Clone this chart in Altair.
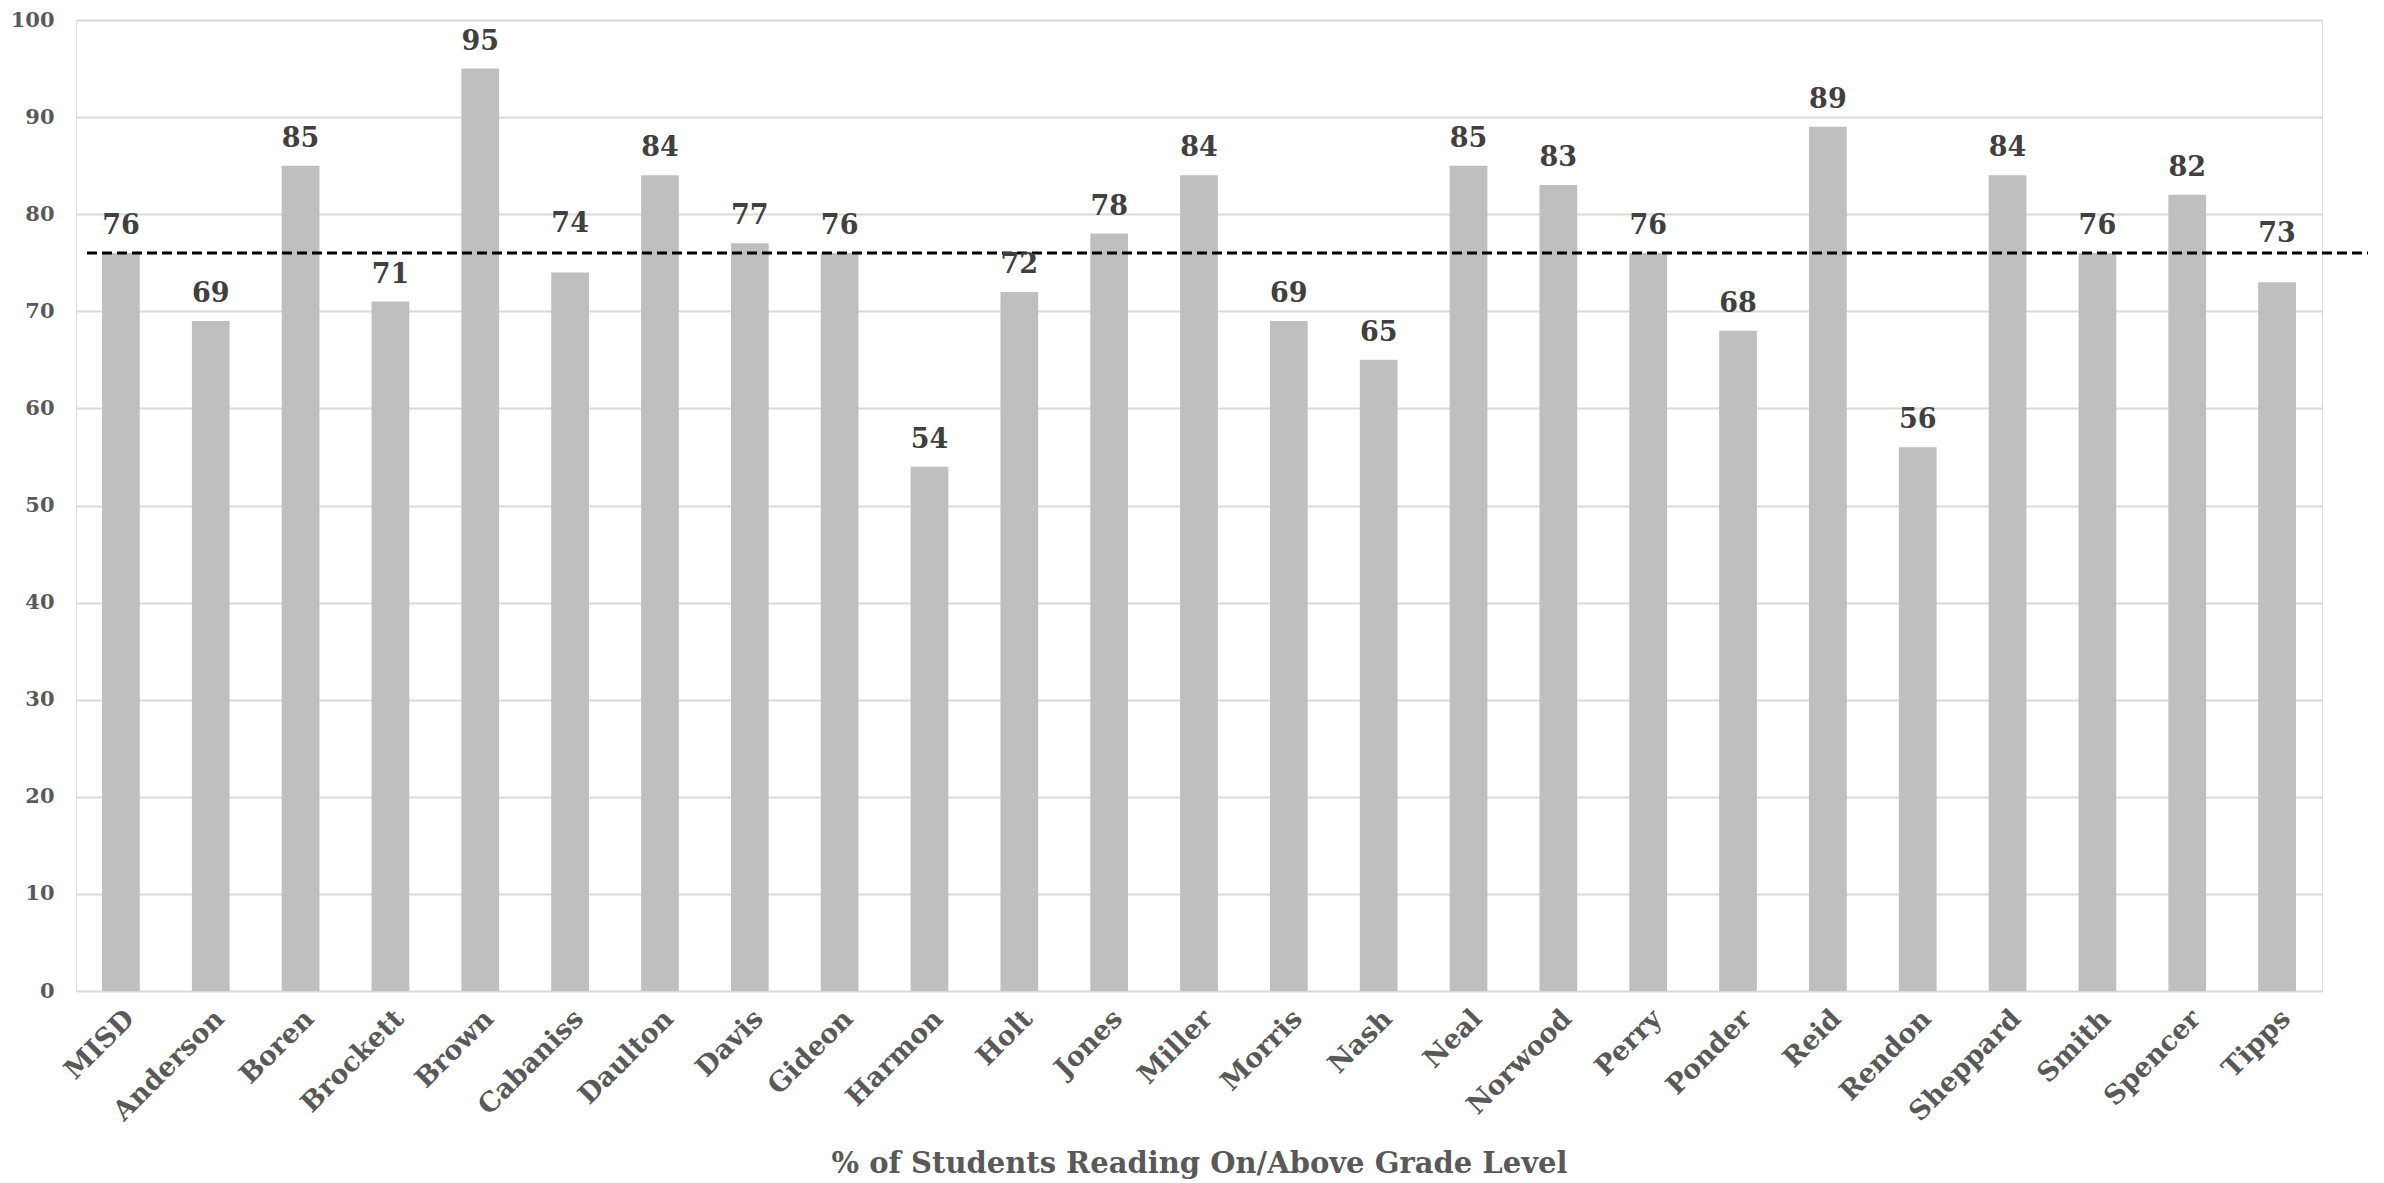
import altair as alt
import pandas as pd

schools = ["MISD", "Anderson", "Boren", "Brockett", "Brown", "Cabaniss", "Daulton", "Davis",
           "Gideon", "Harmon", "Holt", "Jones", "Miller", "Morris", "Nash", "Neal", "Norwood",
           "Perry", "Ponder", "Reid", "Rendon", "Sheppard", "Smith", "Spencer", "Tipps"]
values = [76, 69, 85, 71, 95, 74, 84, 77, 76, 54, 72, 78, 84, 69, 65, 85, 83, 76, 68, 89,
          56, 84, 76, 82, 73]
average = [76]

df = pd.DataFrame({"school": schools, "value": values})
avg_df = pd.DataFrame({"avg": average})

FONT = "DejaVu Serif"
W, H = 2246, 971

x_enc = alt.X("school:N", sort=schools,
              scale=alt.Scale(paddingInner=0.58, paddingOuter=0.29),
              axis=alt.Axis(title="% of Students Reading On/Above Grade Level",
                            labelAngle=-45, labelAlign="right", labelBaseline="top",
                            labelFont=FONT, labelFontWeight="bold", labelFontSize=27,
                            labelColor="#595959", labelPadding=14,
                            titleFont=FONT, titleFontWeight="bold", titleFontSize=29,
                            titleColor="#595959", titlePadding=24,
                            ticks=False, domain=False, grid=False))
y_scale = alt.Scale(domain=[0, 100], nice=False)
y_axis = alt.Axis(title=None, values=list(range(0, 101, 10)), labelFont=FONT,
                  labelFontWeight="bold", labelFontSize=21, labelColor="#595959",
                  labelPadding=22, ticks=False, domain=False, gridColor="#D9D9D9",
                  gridWidth=2)

bars = alt.Chart(df).mark_bar(color="#BFBFBF").encode(
    x=x_enc, y=alt.Y("value:Q", scale=y_scale, axis=y_axis))

labels_normal = alt.Chart(df).mark_text(
    font=FONT, fontWeight="bold", fontSize=27, color="#404040", baseline="middle", dy=-27
).encode(
    x=alt.X("school:N", sort=schools), y=alt.Y("value:Q", scale=y_scale),
    text="value:Q").transform_filter("datum.value < 73 || datum.value >= 76")
labels_shift = alt.Chart(df).mark_text(
    font=FONT, fontWeight="bold", fontSize=27, color="#404040", baseline="middle", dy=-48
).encode(
    x=alt.X("school:N", sort=schools), y=alt.Y("value:Q", scale=y_scale),
    text="value:Q").transform_filter("datum.value >= 73 && datum.value < 76")

rule = alt.Chart(avg_df).mark_rule(color="black", strokeWidth=3, strokeDash=[10, 5]).encode(
    y=alt.Y("avg:Q", scale=y_scale), x=alt.value(11), x2=alt.value(W + 46))

chart = alt.layer(bars, rule, labels_normal, labels_shift).properties(
    width=W, height=H,
    autosize=alt.AutoSizeParams(type="none"),
    padding={"left": 68, "top": 12, "right": 54, "bottom": 190},
).configure_view(strokeWidth=0).configure(background="white")

chart.save("out.html", embed_options={"renderer": "svg", "actions": False})
